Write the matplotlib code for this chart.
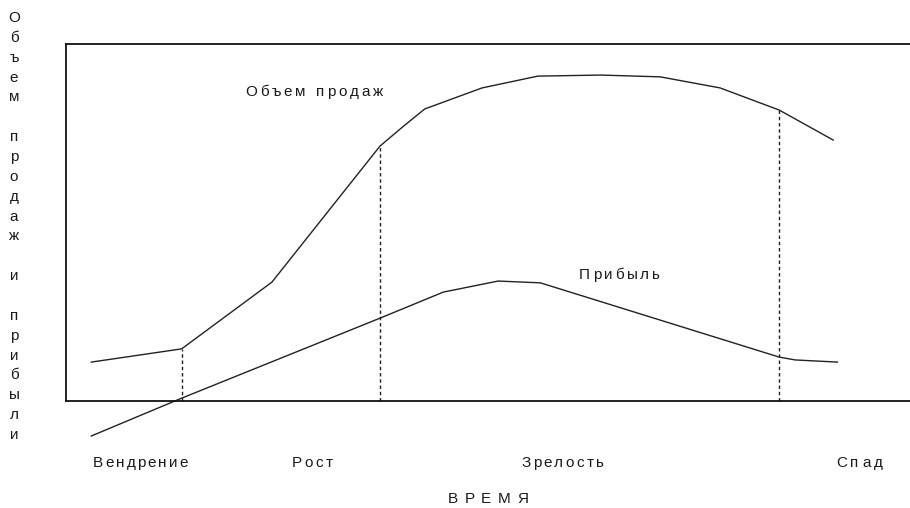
import numpy as np
import matplotlib
matplotlib.use("Agg")
import matplotlib.pyplot as plt
import matplotlib.transforms as mtransforms

# ---- data (time in % of life cycle, value in % of frame height) ----
sales_t = [3.0, 13.7, 24.4, 37.2, 39.9, 42.5, 49.3, 55.9, 63.3, 70.4, 77.5, 84.5, 90.9]
sales_v = [10.9, 14.6, 33.3, 71.4, 76.8, 81.8, 87.7, 91.0, 91.3, 90.8, 87.7, 81.5, 73.1]
profit_t = [3.0, 13.5, 37.2, 44.7, 51.2, 56.2, 84.5, 86.4, 91.4]
profit_v = [-9.8, 0.6, 23.2, 30.5, 33.6, 33.1, 12.3, 11.5, 10.9]
stage_bounds = [13.7, 37.2, 84.5]
stage_labels = ["Вендрение", "Рост", "Зрелость", "Спад"]
sales_label = "Объем продаж"
profit_label = "Прибыль"
y_title = "Объем продаж и прибыли"
x_title = "В Р Е М Я"

W, H = 910, 508
fig = plt.figure(figsize=(W / 100, H / 100), dpi=100)
fig.patch.set_facecolor("white")

# frame axes (pixel box 66..910 x 44..401)
ax = fig.add_axes([66 / W, (H - 401) / H, 844 / W, 357 / H])
ax.set_xlim(0, 100)
ax.set_ylim(0, 100)
ax.set_xticks([])
ax.set_yticks([])
for side in ["left", "top", "bottom"]:
    ax.spines[side].set_linewidth(1.3)
    ax.spines[side].set_color("#111111")
ax.spines["right"].set_visible(False)

line_col = "#222222"
ax.plot(sales_t, sales_v, color=line_col, lw=1.0, clip_on=False)
ax.plot(profit_t, profit_v, color=line_col, lw=1.0, clip_on=False)
for b in stage_bounds:
    top = np.interp(b, sales_t, sales_v)
    ax.plot([b, b], [0, top], color=line_col, lw=1.0,
            linestyle=(0, (2.5, 2)), clip_on=False)

# ---- text helpers (pixel coordinates, y from top) ----
renderer = fig.canvas.get_renderer()
ident = mtransforms.IdentityTransform()
FONT = ["Liberation Sans", "DejaVu Sans"]
TCOL = "#1a1a1a"
FS = 11


def char_w(ch):
    t = fig.text(0, 0, ch, fontsize=FS, family=FONT)
    w = t.get_window_extent(renderer).width
    t.remove()
    return w


def spaced(s, x_left, y_top_px, width):
    ws = [char_w(c) if c != " " else 4.0 for c in s]
    n = len(s)
    track = (width - sum(ws)) / (n - 1) if n > 1 else 0
    x = x_left
    for c, w in zip(s, ws):
        if c != " ":
            fig.text(x, H - y_top_px, c, fontsize=FS, family=FONT, color=TCOL,
                     ha="left", va="center", transform=ident)
        x += w + track


spaced(sales_label, 245, 92, 138)
spaced(profit_label, 579, 275, 81)
stage_left = [93, 292, 521, 836]
stage_width = [95, 41, 83, 47]
for lab, xl, wd in zip(stage_labels, stage_left, stage_width):
    spaced(lab, xl, 463, wd)
spaced(x_title, 448, 499, 80)

# vertical stacked title
y0 = 18
step = (435 - 18) / (len(y_title) - 1)
for i, c in enumerate(y_title):
    if c != " ":
        fig.text(14, H - (y0 + i * step), c, fontsize=FS, family=FONT, color=TCOL,
                 ha="center", va="center", transform=ident)

fig.savefig("out.png", dpi=100, facecolor="white")
